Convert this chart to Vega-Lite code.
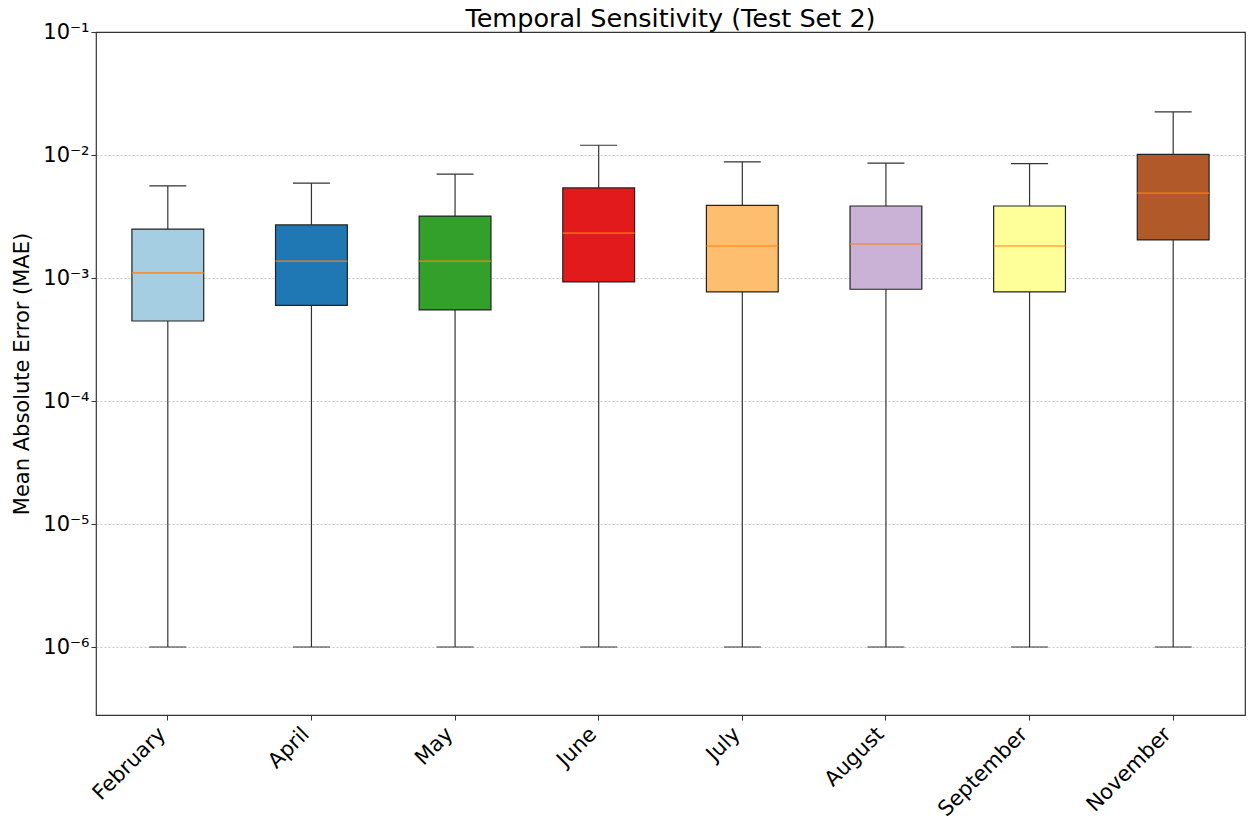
{
  "$schema": "https://vega.github.io/schema/vega-lite/v6.json",
  "autosize": "none",
  "width": 1149,
  "height": 683,
  "padding": {"left": 96, "top": 32, "right": 4, "bottom": 105},
  "background": "white",
  "title": {"text": "Temporal Sensitivity (Test Set 2)", "font": "DejaVu Sans", "fontSize": 25.5, "fontWeight": "normal", "color": "black", "anchor": "middle", "offset": 6, "dy": 17},
  "config": {
    "view": {"stroke": "#333333", "strokeWidth": 1.2},
    "font": "DejaVu Sans"
  },
  "data": {"values": [
    {"month": "February", "low": 1e-6, "q1": 0.000447, "median": 0.0011, "q3": 0.0025, "high": 0.0056},
    {"month": "April", "low": 1e-6, "q1": 0.0006, "median": 0.00137, "q3": 0.0027, "high": 0.0059},
    {"month": "May", "low": 1e-6, "q1": 0.00055, "median": 0.00137, "q3": 0.00319, "high": 0.007},
    {"month": "June", "low": 1e-6, "q1": 0.00093, "median": 0.00232, "q3": 0.0054, "high": 0.012},
    {"month": "July", "low": 1e-6, "q1": 0.00077, "median": 0.00182, "q3": 0.0039, "high": 0.0088},
    {"month": "August", "low": 1e-6, "q1": 0.00081, "median": 0.00189, "q3": 0.00385, "high": 0.0086},
    {"month": "September", "low": 1e-6, "q1": 0.00077, "median": 0.00182, "q3": 0.00385, "high": 0.0085},
    {"month": "November", "low": 1e-6, "q1": 0.00204, "median": 0.0049, "q3": 0.0101, "high": 0.0224}
  ]},
  "encoding": {
    "x": {
      "field": "month", "type": "nominal", "sort": null,
      "scale": {"paddingInner": 0, "paddingOuter": 0},
      "axis": {"title": null, "labelAngle": -45, "labelAlign": "right", "labelBaseline": "top", "labelFontSize": 21, "labelColor": "black", "labelFont": "DejaVu Sans", "tickColor": "#333333", "tickSize": 5, "domain": false, "labelPadding": 3, "labelOffset": -13, "grid": false}
    }
  },
  "layer": [
    {
      "mark": {"type": "rule", "color": "#333333", "strokeWidth": 1.2},
      "encoding": {
        "y": {
          "field": "low", "type": "quantitative",
          "scale": {"type": "log", "domain": [2.8e-7, 0.1], "nice": false},
          "axis": {
            "title": "Mean Absolute Error (MAE)", "titleFontSize": 21, "titleFontWeight": "normal", "titleColor": "black", "titleFont": "DejaVu Sans", "titlePadding": 10,
            "values": [1e-6, 1e-5, 1e-4, 1e-3, 1e-2, 1e-1],
            "labelExpr": "'10⁻' + ['','¹','²','³','⁴','⁵','⁶'][round(-log(datum.value)/LN10)]",
            "labelFontSize": 21, "labelColor": "black", "labelFont": "DejaVu Sans",
            "tickColor": "#333333", "tickSize": 5, "domain": false,
            "grid": true,
            "gridColor": {"condition": {"test": "datum.value > 0.05", "value": "transparent"}, "value": "#bbbbbb"},
            "gridDash": [2, 2], "gridWidth": 0.8
          }
        },
        "y2": {"field": "high"}
      }
    },
    {
      "mark": {"type": "bar", "width": {"band": 0.5}, "stroke": "#222222", "strokeWidth": 1.2},
      "encoding": {
        "y": {"field": "q1", "type": "quantitative"},
        "y2": {"field": "q3"},
        "color": {
          "field": "month", "type": "nominal", "sort": null, "legend": null,
          "scale": {"domain": ["February", "April", "May", "June", "July", "August", "September", "November"],
                    "range": ["#a6cee3", "#1f78b4", "#33a02c", "#e31a1c", "#fdbf6f", "#cab2d6", "#ffff99", "#b15928"]}
        }
      }
    },
    {
      "mark": {"type": "tick", "color": "#ff7f0e", "size": 72, "thickness": 1.2, "opacity": 1},
      "encoding": {"y": {"field": "median", "type": "quantitative"}}
    },
    {
      "mark": {"type": "tick", "color": "#333333", "size": 37, "thickness": 1.2, "opacity": 1},
      "encoding": {"y": {"field": "high", "type": "quantitative"}}
    },
    {
      "mark": {"type": "tick", "color": "#333333", "size": 37, "thickness": 1.2, "opacity": 1},
      "encoding": {"y": {"field": "low", "type": "quantitative"}}
    }
  ]
}
